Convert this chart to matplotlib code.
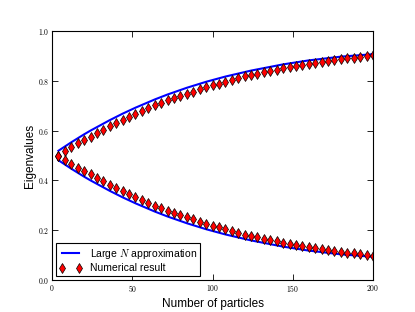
"""Eigenvalues vs number of particles: large-N approximation against numerics."""

import matplotlib
matplotlib.use("Agg")
import matplotlib.pyplot as plt
from matplotlib.ticker import FuncFormatter

plt.rcParams['mathtext.fontset'] = 'cm'
plt.rcParams['font.family'] = ['Liberation Sans', 'DejaVu Sans']

n_particles = [4, 8, 12, 16, 20, 24, 28, 32, 36, 40,
               44, 48, 52, 56, 60, 64, 68, 72, 76, 80,
               84, 88, 92, 96, 100, 104, 108, 112, 116, 120,
               124, 128, 132, 136, 140, 144, 148, 152, 156, 160,
               164, 168, 172, 176, 180, 184, 188, 192, 196, 200]

approx_upper = [0.519, 0.536, 0.553, 0.569, 0.585, 0.600, 0.614, 0.628, 0.642, 0.655,
                0.668, 0.680, 0.692, 0.703, 0.714, 0.725, 0.735, 0.745, 0.754, 0.763,
                0.772, 0.780, 0.788, 0.796, 0.803, 0.810, 0.817, 0.823, 0.829, 0.835,
                0.841, 0.846, 0.851, 0.856, 0.861, 0.866, 0.870, 0.874, 0.878, 0.882,
                0.885, 0.888, 0.891, 0.894, 0.897, 0.899, 0.901, 0.903, 0.905, 0.907]

approx_lower = [0.481, 0.464, 0.447, 0.431, 0.415, 0.400, 0.386, 0.372, 0.358, 0.345,
                0.332, 0.320, 0.308, 0.297, 0.286, 0.275, 0.265, 0.255, 0.246, 0.237,
                0.228, 0.220, 0.212, 0.204, 0.197, 0.190, 0.183, 0.177, 0.171, 0.165,
                0.159, 0.154, 0.149, 0.144, 0.139, 0.134, 0.130, 0.126, 0.122, 0.118,
                0.115, 0.112, 0.109, 0.106, 0.103, 0.101, 0.099, 0.097, 0.095, 0.093]

numeric_upper = [0.500, 0.517, 0.534, 0.550, 0.563, 0.576, 0.590, 0.604, 0.618, 0.631,
                 0.644, 0.656, 0.668, 0.679, 0.690, 0.701, 0.712, 0.722, 0.731, 0.740,
                 0.749, 0.757, 0.766, 0.774, 0.782, 0.789, 0.797, 0.804, 0.811, 0.818,
                 0.824, 0.829, 0.834, 0.840, 0.845, 0.851, 0.855, 0.860, 0.864, 0.869,
                 0.873, 0.876, 0.880, 0.884, 0.887, 0.890, 0.893, 0.896, 0.899, 0.902]

numeric_lower = [0.500, 0.483, 0.466, 0.450, 0.437, 0.424, 0.410, 0.396, 0.382, 0.369,
                 0.356, 0.344, 0.332, 0.321, 0.310, 0.299, 0.288, 0.278, 0.269, 0.260,
                 0.251, 0.243, 0.234, 0.226, 0.218, 0.211, 0.203, 0.196, 0.189, 0.182,
                 0.176, 0.171, 0.166, 0.160, 0.155, 0.149, 0.145, 0.140, 0.136, 0.131,
                 0.127, 0.124, 0.120, 0.116, 0.113, 0.110, 0.107, 0.104, 0.101, 0.098]

x_ticks = [0, 50, 100, 150, 200]
y_ticks = [0.0, 0.2, 0.4, 0.6, 0.8, 1.0]


def main() -> None:
    fig = plt.figure(figsize=(4.15, 3.12), dpi=100)
    ax = fig.add_axes([0.1253, 0.1026, 0.7735, 0.798])

    marker_kw = dict(linestyle='none', marker='d', markersize=4.8,
                     markerfacecolor='red', markeredgecolor='black',
                     markeredgewidth=0.5)

    ax.plot(n_particles, approx_upper, color='#0000ff', lw=1.5,
            label='Large $N$ approximation')
    ax.plot(n_particles, approx_lower, color='#0000ff', lw=1.5)
    ax.plot(n_particles, numeric_upper, label='Numerical result', **marker_kw)
    ax.plot(n_particles, numeric_lower, **marker_kw)

    ax.set_xlim(0, 200)
    ax.set_ylim(0, 1)
    ax.set_xticks(x_ticks)
    ax.set_yticks(y_ticks)
    ax.xaxis.set_major_formatter(FuncFormatter(lambda v, p: f"${v:.0f}$"))
    ax.yaxis.set_major_formatter(FuncFormatter(lambda v, p: f"${v:.1f}$"))
    ax.tick_params(direction='in', length=4, width=0.6, top=True, right=True,
                   labelsize=5.5, pad=2)
    for spine in ax.spines.values():
        spine.set_linewidth(0.8)

    ax.set_xlabel("Number of particles", fontsize=8.5, labelpad=3)
    ax.set_ylabel("Eigenvalues", fontsize=8.5, labelpad=1)

    leg = ax.legend(loc='lower left', numpoints=2, fontsize=7.5, fancybox=False,
                    edgecolor='black', framealpha=1, borderaxespad=0.35,
                    handlelength=2.2, borderpad=0.3, labelspacing=0.25)
    leg.get_frame().set_linewidth(0.8)

    fig.savefig("out.png", dpi=100)


if __name__ == "__main__":
    main()
